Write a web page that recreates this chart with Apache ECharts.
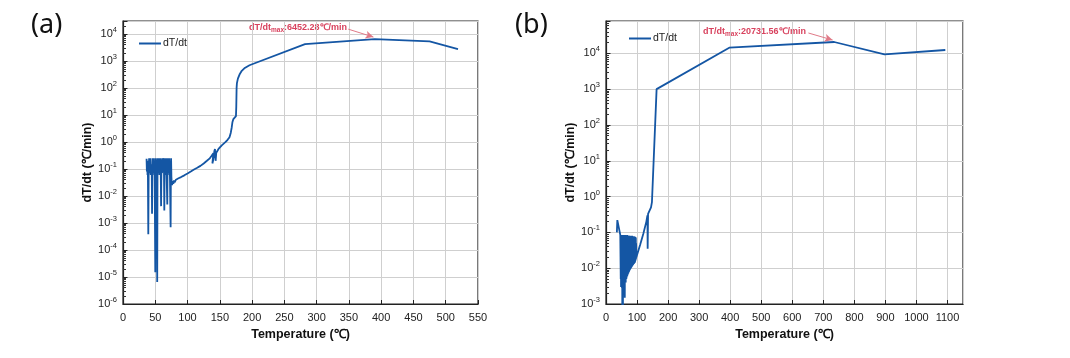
<!DOCTYPE html>
<html><head><meta charset="utf-8">
<script src="https://cdn.jsdelivr.net/npm/echarts@6/dist/echarts.min.js"></script>
<style>html,body{margin:0;padding:0;background:#fff}#c{width:1070px;height:358px}</style>
</head><body><div id="c"></div>
<script>
// ---------- Panel (a) ----------
const tempA = [36.5,37,37.5,38,38.5,39.2,39.8,40.5,41,41.5,42,42.5,43,43.5,44.5,45,45.5,46,46.5,47,47.5,48,48.5,49,50,50.5,51,51.5,52,52.5,53,53.5,54,54.5,55,55.5,56,56.5,57,57.5,58,58.5,59,59.5,60,60.5,61,61.5,62,63,63.5,64,64.5,65,65.5,66,66.5,67,67.5,68.6,69,69.5,70,70.5,71,71.5,72,72.5,73.8,74.2,74.5,75,75.5,76,77,78,79,80,82,84,86,88,90,95,100,105,110,115,120,125,130,134,137,139,140,138.5,139.5,141.5,142.5,143,143.5,144.5,146,148,150,153,156,159,162,165,167,168.5,169.5,171,172,175,175.5,176,176.5,178,181,184,188,192,196,200,282,390,475,519];
const rateA = [0.24,0.08,0.2,0.06,0.15,3.8e-4,0.12,0.25,0.07,0.18,0.09,0.25,0.06,0.15,0.1,2.2e-3,0.1,0.25,0.07,0.2,0.08,0.25,0.06,0.12,1.5e-5,0.1,0.25,0.08,0.2,0.07,6.5e-6,0.09,0.25,0.07,0.18,0.08,0.25,0.06,0.15,0.08,0.25,0.07,4.2e-3,0.1,0.22,0.07,0.25,0.08,0.15,0.25,0.07,2.9e-3,0.09,0.25,0.08,0.2,0.06,0.25,0.08,4.8e-3,0.1,0.25,0.07,0.2,0.08,0.25,0.06,0.13,7e-4,0.1,0.25,0.05,0.03,0.025,0.035,0.028,0.038,0.032,0.04,0.037,0.045,0.042,0.05,0.058,0.068,0.08,0.095,0.11,0.13,0.16,0.2,0.24,0.3,0.33,0.38,0.16,0.2,0.45,0.55,0.3,0.2,0.4,0.45,0.55,0.65,0.75,0.85,1.0,1.2,1.5,2.2,3.5,5.3,7.0,8,9,20,100,150,220,330,430,530,610,690,750,4200,6452.28,5300,2750];
// ---------- Panel (b) ----------
const tempB = [35,36.5,46,47,47.5,48,48.5,49,49.5,50,50.5,51,51.5,52,52.5,53,53.5,54,54.5,55,55.5,56,56.5,57,57.5,58,58.5,59,59.5,60,60.5,61,61.5,62,62.5,63,63.5,64,64.5,65,65.5,66,66.5,67,67.5,68,68.5,69,69.5,70,70.5,71,71.5,72,72.5,73,73.5,74,74.5,75,75.5,76,76.5,77,77.5,78,78.5,79,79.5,80,80.5,81,81.5,82,82.5,83,83.5,84,84.5,85,85.5,86,86.5,87,87.5,88,88.5,89,89.5,90,90.5,91,91.5,92,92.5,93,93.5,94,94.5,95,95.5,96,96.5,97,97.5,110,120,130,133.5,134.2,135.5,140,145,148,163,397,735,897,1093];
const rateB = [0.1,0.22,0.085,0.08,0.005,0.085,0.003,0.08,0.004,0.085,0.003,0.08,0.0028,0.085,0.0008,0.08,0.003,0.085,0.0004,0.08,0.003,0.085,0.0035,0.08,0.003,0.085,0.004,0.08,0.0035,0.082,0.0015,0.08,0.004,0.085,0.0045,0.08,0.004,0.082,0.005,0.08,0.005,0.082,0.0055,0.08,0.006,0.085,0.006,0.08,0.0065,0.082,0.007,0.08,0.007,0.08,0.0075,0.082,0.008,0.08,0.008,0.078,0.0085,0.08,0.009,0.078,0.009,0.08,0.0095,0.078,0.01,0.08,0.01,0.078,0.0105,0.08,0.011,0.078,0.011,0.08,0.0115,0.076,0.012,0.078,0.012,0.076,0.0125,0.078,0.013,0.076,0.013,0.078,0.0135,0.076,0.014,0.075,0.014,0.076,0.015,0.075,0.016,0.074,0.017,0.07,0.018,0.05,0.02,0.045,0.09,0.2,0.3,0.035,0.33,0.36,0.5,0.7,1000,14400,20731.56,9400,12400];
// axis settings
const xAxisA = {min:0, max:550, interval:50};
const xAxisB = {min:0, max:1150, interval:100};
const yAxisA = {min:1e-6, max:3e4};
const yAxisB = {min:1e-3, max:8e4};
// annotation arrows (text end -> max point)
const arrowA = [[349, 15000], [388, 7600]];
const arrowB = [[652, 37000], [730, 23500]];
const labelA = ':6452.28℃/min';
const labelB = ':20731.56℃/min';

const LINE = '#1456a4';
const RED = '#d8425e';
const FONT = '"Liberation Sans", Arial, sans-serif';

function pairs(xs, ys){ return xs.map((x,i)=>[x, ys[i]]); }
function logLabel(v){
  const e = Math.log10(v); const r = Math.round(e);
  if (Math.abs(e - r) > 1e-6) return '';
  return '{b|10}{s|' + r + '}';
}
function minorVals(cfg){
  const out = [];
  for (let n = Math.floor(Math.log10(cfg.min)); n <= Math.ceil(Math.log10(cfg.max)); n++){
    for (let k = 2; k <= 9; k++){ const v = k*Math.pow(10,n); if (v > cfg.min && v < cfg.max) out.push(v); }
  }
  return out;
}
const richLab = { b:{fontSize:11, fontFamily:FONT, color:'#222'}, s:{fontSize:7.5, fontFamily:FONT, color:'#222', padding:[0,0,8,0]} };

function xAx(idx, cfg, extra){
  return Object.assign({
    type:'value', gridIndex:idx, min:cfg.min, max:cfg.max, interval:cfg.interval,
    name:'Temperature (℃)', nameLocation:'middle', nameGap:22,
    nameTextStyle:{fontFamily:FONT, fontWeight:'bold', fontSize:12.5, color:'#111'},
    axisLine:{lineStyle:{color:'#222', width:1.2}},
    axisTick:{inside:true, length:4, lineStyle:{color:'#222'}},
    axisLabel:{fontFamily:FONT, fontSize:11, color:'#222', margin:8, formatter:(v)=>String(v)},
    splitLine:{show:true, lineStyle:{color:'#cfcfcf', width:1}}
  }, extra||{});
}
function yAx(idx, cfg){
  return {
    type:'log', logBase:10, gridIndex:idx, min:cfg.min, max:cfg.max, interval:1,
    name:'dT/dt (℃/min)', nameLocation:'middle', nameGap:24,
    nameTextStyle:{fontFamily:FONT, fontWeight:'bold', fontSize:12.5, color:'#111'},
    axisLine:{show:true, lineStyle:{color:'#222', width:1.2}},
    axisTick:{inside:true, length:4.5, lineStyle:{color:'#222'}},
    axisLabel:{formatter:logLabel, rich:richLab, margin:6},
    splitLine:{show:true, lineStyle:{color:'#cfcfcf', width:1}}
  };
}
function yMinor(idx, cfg){
  return {
    type:'log', logBase:10, gridIndex:idx, min:cfg.min, max:cfg.max, position:'left', offset:0,
    axisLine:{show:false}, axisLabel:{show:false}, splitLine:{show:false},
    axisTick:{show:true, inside:true, length:3, lineStyle:{color:'#333', width:1}, customValues:minorVals(cfg)}
  };
}
function arrowMark(a){
  return {silent:true, symbol:['none','arrow'], symbolSize:[6,8], animation:false,
    label:{show:false}, lineStyle:{color:'#e07a88', width:1, type:'solid'},
    emphasis:{disabled:true},
    data:[[{coord:a[0]},{coord:a[1]}]]};
}
function annText(left, top, tail){
  return {type:'text', left:left, top:top, style:{text:'{a|dT/dt}{s|max}{a|' + tail + '}',
    rich:{a:{fontFamily:FONT, fontWeight:'bold', fontSize:9, fill:RED}, s:{fontFamily:FONT, fontWeight:'bold', fontSize:6.5, fill:RED, padding:[5,0,0,0]}}}};
}
const chart = echarts.init(document.getElementById('c'), null, {renderer:'canvas'});
chart.setOption({
  animation:false,
  backgroundColor:'#fff',
  grid:[
    {left:123, top:21, width:355, height:283, show:true, borderColor:'#222', borderWidth:1.2, containLabel:false},
    {left:606, top:21, width:357, height:283, show:true, borderColor:'#222', borderWidth:1.2, containLabel:false}
  ],
  xAxis:[xAx(0, xAxisA), xAx(1, xAxisB, {axisLabel:{fontFamily:FONT, fontSize:11, color:'#222', margin:8, showMaxLabel:false, formatter:(v)=>String(v)}})],
  yAxis:[yAx(0, yAxisA), yAx(1, yAxisB), yMinor(0, yAxisA), yMinor(1, yAxisB)],
  legend:[
    {left:134, top:33, icon:'rect', itemWidth:22, itemHeight:2, itemGap:2, data:['dT/dt'], textStyle:{fontFamily:FONT, fontSize:10.5, color:'#222', padding:[0,0,0,-3]}},
    {left:624, top:28, icon:'rect', itemWidth:22, itemHeight:2, itemGap:2, data:['dT/dt'], textStyle:{fontFamily:FONT, fontSize:10.5, color:'#222', padding:[0,0,0,-3]}}
  ],
  series:[
    {name:'dT/dt', type:'line', xAxisIndex:0, yAxisIndex:0, data:pairs(tempA, rateA), showSymbol:false, symbol:'none',
     lineStyle:{color:LINE, width:1.8}, itemStyle:{color:LINE}, markLine:arrowMark(arrowA)},
    {name:'dT/dt', type:'line', xAxisIndex:1, yAxisIndex:1, data:pairs(tempB, rateB), showSymbol:false, symbol:'none',
     lineStyle:{color:LINE, width:1.8}, itemStyle:{color:LINE}, markLine:arrowMark(arrowB)}
  ],
  graphic:[
    {type:'text', left:31, top:12, style:{text:'(a)', font:'27px "Noto Sans", "Open Sans", sans-serif', fill:'#111'}},
    {type:'text', left:515, top:12, style:{text:'(b)', font:'27px "Noto Sans", "Open Sans", sans-serif', fill:'#111'}},
    annText(249, 23, labelA),
    annText(703, 27, labelB)
  ]
});
</script></body></html>
